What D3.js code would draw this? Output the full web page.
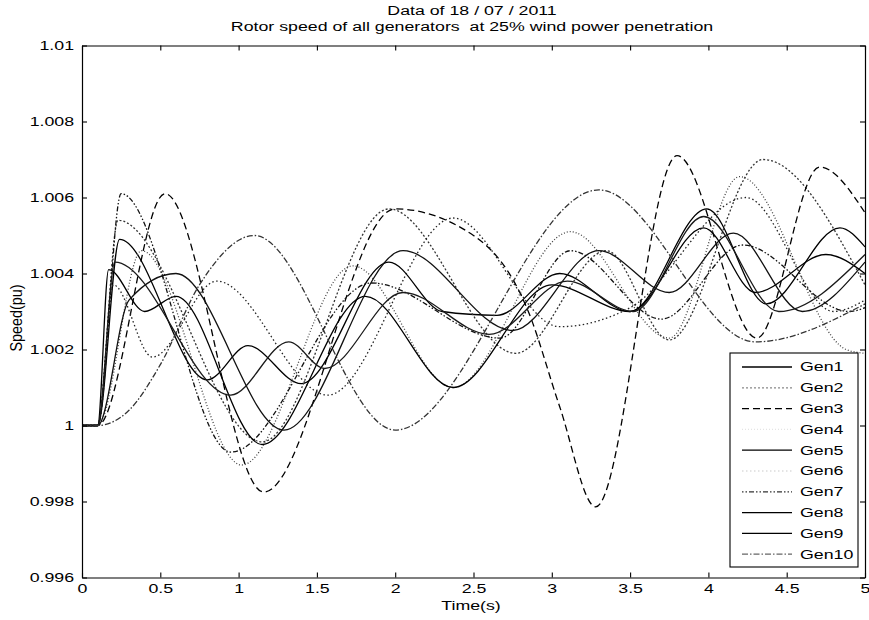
<!DOCTYPE html>
<html>
<head>
<meta charset="utf-8">
<script src="https://cdn.jsdelivr.net/npm/d3@7"></script>
<style>
  html, body { margin: 0; padding: 0; background: #fff; }
  svg text { font-family: "Liberation Sans", Arial, sans-serif; fill: #000; white-space: pre; }
</style>
</head>
<body>
<svg id="chart" width="869" height="620"></svg>
<script>
// ---------- data ----------
const titleLines = ["Data of 18 / 07 / 2011", "Rotor speed of all generators  at 25% wind power penetration"];
const xLabel = "Time(s)";
const yLabel = "Speed(pu)";
const xTicks = [0, 0.5, 1, 1.5, 2, 2.5, 3, 3.5, 4, 4.5, 5];
const xTickLabels = ["0", "0.5", "1", "1.5", "2", "2.5", "3", "3.5", "4", "4.5", "5"];
const yTicks = [0.996, 0.998, 1, 1.002, 1.004, 1.006, 1.008, 1.01];
const yTickLabels = ["0.996", "0.998", "1", "1.002", "1.004", "1.006", "1.008", "1.01"];
const seriesNames = ["Gen1", "Gen2", "Gen3", "Gen4", "Gen5", "Gen6", "Gen7", "Gen8", "Gen9", "Gen10"];

// [time (s), speed (pu)] at the turning points of each curve
const gen1 = [[0,1],[0.1,1],[0.24,1.0049],[0.8,1.0012],[1.06,1.0021],[1.4,1.0011],[1.96,1.0043],[2.3,1.0030],[2.65,1.0029],[3.05,1.0040],[3.5,1.0030],[3.99,1.0057],[4.37,1.0032],[4.84,1.0052],[5,1.0047]];
const gen2 = [[0,1],[0.1,1],[0.23,1.0054],[1.15,0.99957],[1.96,1.0057],[2.77,1.0019],[3.35,1.0046],[3.75,1.00225],[4.35,1.0070],[5,1.0037]];
const gen3 = [[0,1],[0.1,1],[0.53,1.0061],[1.16,0.99825],[2.0,1.0057],[2.5,1.0050],[2.85,1.0030],[3.05,1.0005],[3.28,0.99786],[3.8,1.0071],[4.31,1.0023],[4.71,1.0068],[5,1.0056]];
const gen4 = [[0,1],[0.1,1],[0.38,1.0046],[1.02,0.99896],[1.73,1.0042],[2.37,1.0010],[3.12,1.0051],[3.75,1.0023],[4.2,1.00655],[4.88,1.0020],[5,1.0019]];
const gen5 = [[0,1],[0.1,1],[0.17,1.0041],[0.4,1.0030],[0.6,1.0034],[1.15,0.9995],[1.81,1.0034],[2.37,1.0010],[3.0,1.0037],[3.5,1.0030],[3.97,1.0052],[4.3,1.0035],[4.75,1.0045],[5,1.0040]];
const gen6 = [[0,1],[0.1,1],[0.2,1.0037],[0.45,1.0018],[0.86,1.0038],[1.57,1.0008],[2.37,1.00546],[3.05,1.0026],[3.5,1.0031],[4.24,1.0060],[4.8,1.0030],[5,1.0033]];
const gen7 = [[0,1],[0.1,1],[0.25,1.0061],[0.95,0.9993],[1.85,1.00375],[2.67,1.0023],[3.12,1.0046],[3.7,1.0028],[4.22,1.00475],[4.9,1.0030],[5,1.0031]];
const gen8 = [[0,1],[0.1,1],[0.3,1.0033],[0.6,1.0040],[1.29,0.99988],[2.05,1.0046],[2.75,1.0025],[3.3,1.0046],[3.75,1.0035],[4.16,1.00506],[4.6,1.0030],[5,1.0043]];
const gen9 = [[0,1],[0.1,1],[0.21,1.0043],[0.95,1.0008],[1.32,1.0022],[1.55,1.0015],[2.05,1.0035],[2.6,1.0024],[3.1,1.0038],[3.52,1.0030],[3.97,1.0055],[4.45,1.0030],[5,1.0045]];
const gen10 = [[0,1],[0.1,1],[0.3,1.0004],[0.5,1.0016],[0.75,1.0037],[1.1,1.0050],[2.0,0.99988],[3.3,1.0062],[4.3,1.0022],[5,1.0032]];
const seriesValues = [gen1, gen2, gen3, gen4, gen5, gen6, gen7, gen8, gen9, gen10];

// ---------- styles ----------
const lineStyles = [
  { color: "#000", dash: null,            legend: "#000" },
  { color: "#333", dash: "2,2",           legend: "#888" },
  { color: "#000", dash: "7,4",           legend: "#000" },
  { color: "#444", dash: "1,2",           legend: "#e4e4e4" },
  { color: "#000", dash: null,            legend: "#000" },
  { color: "#222", dash: "1.5,2.5",       legend: "#dcdcdc" },
  { color: "#111", dash: "1.5,2,1.5,2,5,2", legend: "#333" },
  { color: "#111", dash: null,            legend: "#000" },
  { color: "#1a1a1a", dash: null,         legend: "#000" },
  { color: "#333", dash: "6,2,1.5,2",     legend: "#666" }
];
const SX = 1.42; // horizontal stretch of the scanned lettering
const FS = 12.5;

const svg = d3.select("#chart");
const W = 869, H = 620;
const m = { left: 82, right: 4, top: 45.5, bottom: 42.5 };
const x = d3.scaleLinear().domain([0, 5]).range([m.left, W - m.right]);
const y = d3.scaleLinear().domain([0.996, 1.01]).range([H - m.bottom, m.top]);

svg.append("rect").attr("width", W).attr("height", H).attr("fill", "#fff");

// clip
svg.append("clipPath").attr("id", "plotclip").append("rect")
  .attr("x", x(0)).attr("y", y(1.01)).attr("width", x(5) - x(0)).attr("height", y(0.996) - y(1.01));

// curves
const line = d3.line().x(d => x(d[0])).y(d => y(d[1])).curve(d3.curveMonotoneX);
const gLines = svg.append("g").attr("clip-path", "url(#plotclip)");
seriesValues.forEach((s, i) => {
  gLines.append("path")
    .attr("d", line(s))
    .attr("fill", "none")
    .attr("stroke", lineStyles[i].color)
    .attr("stroke-width", 1.3)
    .attr("stroke-dasharray", lineStyles[i].dash);
});

// axes (MATLAB-style inward ticks on all four sides)
const fmtX = d => xTickLabels[xTicks.indexOf(d)];
const fmtY = d => yTickLabels[yTicks.indexOf(d)];
const axB = svg.append("g").attr("transform", `translate(0,${y(0.996)})`)
  .call(d3.axisBottom(x).tickValues(xTicks).tickFormat(fmtX).tickSizeInner(-5).tickSizeOuter(0).tickPadding(6.5));
const axL = svg.append("g").attr("transform", `translate(${x(0)},0)`)
  .call(d3.axisLeft(y).tickValues(yTicks).tickFormat(fmtY).tickSizeInner(-5).tickSizeOuter(0).tickPadding(5.6));
const axT = svg.append("g").attr("transform", `translate(0,${y(1.01)})`)
  .call(d3.axisTop(x).tickValues(xTicks).tickFormat("").tickSizeInner(-5).tickSizeOuter(0));
const axR = svg.append("g").attr("transform", `translate(${x(5)},0)`)
  .call(d3.axisRight(y).tickValues(yTicks).tickFormat("").tickSizeInner(-5).tickSizeOuter(0));
[axB, axL, axT, axR].forEach(a => {
  a.select(".domain").attr("stroke", "#000").attr("stroke-width", 1.2);
  a.selectAll(".tick line").attr("stroke", "#000").attr("stroke-width", 1.1);
  a.selectAll("text").attr("font-size", FS).attr("fill", "#000")
    .attr("font-family", "'Liberation Sans', Arial, sans-serif")
    .attr("transform", `scale(${SX},1)`);
});

// text helper with horizontal stretch
function stretchedText(txt, cx, cy, anchor, size) {
  return svg.append("text")
    .attr("transform", `translate(${cx},${cy}) scale(${SX},1)`)
    .attr("text-anchor", anchor)
    .attr("font-size", size)
    .text(txt);
}
stretchedText(titleLines[0], 472, 14.5, "middle", FS);
stretchedText(titleLines[1], 472, 30.5, "middle", FS);
stretchedText(xLabel, 471, 610, "middle", FS);
svg.append("text")
  .attr("transform", `translate(22,318) rotate(-90) scale(1.2,${SX})`)
  .attr("text-anchor", "middle").attr("font-size", 12)
  .text(yLabel);

// legend
const lg = { x: 730, y: 353, w: 128, h: 214, row0: 367, dy: 20.8 };
svg.append("rect").attr("x", lg.x).attr("y", lg.y).attr("width", lg.w).attr("height", lg.h)
  .attr("fill", "#fff").attr("stroke", "#000").attr("stroke-width", 1.1);
seriesNames.forEach((n, i) => {
  const yy = lg.row0 + i * lg.dy;
  svg.append("line").attr("x1", 742).attr("x2", 792).attr("y1", yy).attr("y2", yy)
    .attr("stroke", lineStyles[i].legend).attr("stroke-width", 1.3)
    .attr("stroke-dasharray", lineStyles[i].dash);
  stretchedText(n, 800, yy + 4.3, "start", FS);
});
</script>
</body>
</html>
